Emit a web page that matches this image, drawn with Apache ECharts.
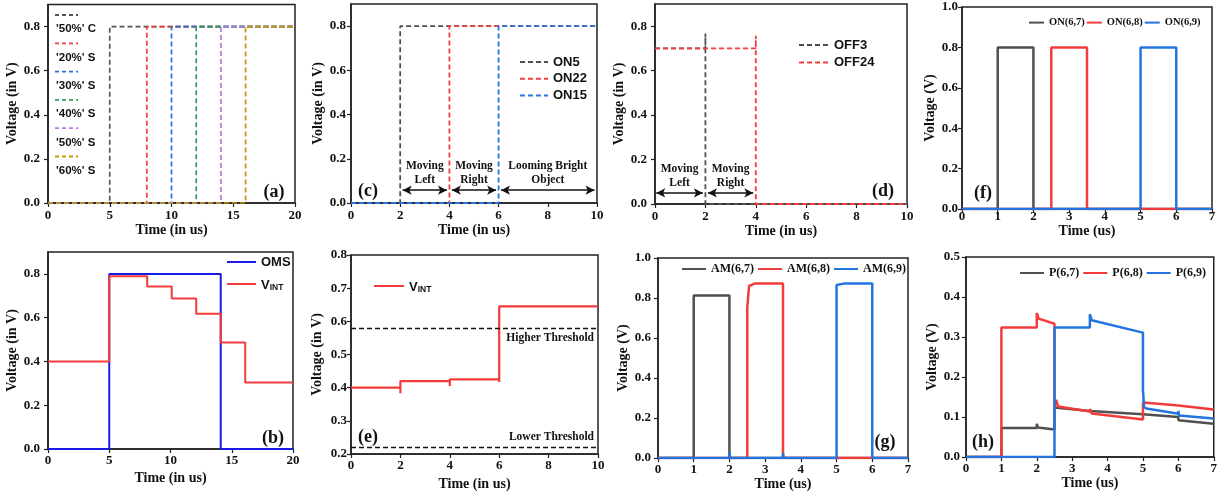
<!DOCTYPE html>
<html>
<head>
<meta charset="utf-8">
<script src="https://cdn.jsdelivr.net/npm/echarts@6/dist/echarts.min.js"></script>
<style>
  html, body { margin: 0; padding: 0; background: #fff; }
  #chart { width: 1220px; height: 492px; }
</style>
</head>
<body>
<div id="chart"></div>
<script>
const SERIF = '"Liberation Serif", "Times New Roman", serif';
const SANS = '"Liberation Sans", Arial, sans-serif';
const GRAY = '#505050', RED = '#f23c3c', BLUE = '#2474e0';

// (a) rising edges of the sweep, [time us, volt]
const sweepNames = ["'50%' C", "'20%' S", "'30%' S", "'40%' S", "'50%' S", "'60%' S"];
const sweepColors = ['#555555', '#f23c3c', '#2a70dc', '#2ca25f', '#b67be6', '#c79a00'];
const sweepWaves = [
  [[0, 0], [5, 0], [5, 0.8], [20, 0.8]],
  [[0, 0], [8, 0], [8, 0.8], [20, 0.8]],
  [[0, 0], [10, 0], [10, 0.8], [20, 0.8]],
  [[0, 0], [12, 0], [12, 0.8], [20, 0.8]],
  [[0, 0], [14, 0], [14, 0.8], [20, 0.8]],
  [[0, 0], [16, 0], [16, 0.8], [20, 0.8]]
];

// (b)
const omsB = [[0, 0], [5, 0], [5, 0.8], [14.1, 0.8], [14.1, 0], [20, 0]];
const vintB = [[0, 0.4], [5, 0.4], [5, 0.789], [8.1, 0.789], [8.1, 0.742], [10.1, 0.742], [10.1, 0.688],
  [12.1, 0.688], [12.1, 0.618], [14.1, 0.618], [14.1, 0.486], [16.1, 0.486], [16.1, 0.304], [20, 0.304]];

// (c)
const on5 = [[0, 0], [2, 0], [2, 0.8], [10, 0.8]];
const on22 = [[0, 0], [4, 0], [4, 0.8], [10, 0.8]];
const on15 = [[0, 0], [6, 0], [6, 0.8], [10, 0.8]];
const arrowsC = [[2.1, 3.9, 'Moving\nLeft'], [4.1, 5.9, 'Moving\nRight'], [6.1, 9.9, 'Looming Bright\nObject']];
const arrowYC = 0.058;

// (d)
const off3 = [[0, 0.7], [2, 0.7], [2, 0.767], [2, 0], [10, 0]];
const off24 = [[0, 0.7], [4, 0.7], [4, 0.757], [4, 0], [10, 0]];
const arrowsD = [[0.05, 1.9, 'Moving\nLeft'], [2.1, 3.9, 'Moving\nRight']];
const arrowYD = 0.05;

// (e)
const vintE = [[0, 0.4], [2, 0.4], [2, 0.383], [2, 0.42], [4, 0.42], [4, 0.405], [4, 0.425],
  [6, 0.425], [6, 0.417], [6, 0.645], [10, 0.645]];
const thresholds = [['Higher Threshold', 0.577], ['Lower Threshold', 0.223]];

// (f)
const on67 = [[0, 0], [1, 0], [1, 0.8], [2, 0.8], [2, 0], [7, 0]];
const on68 = [[0, 0], [2.5, 0], [2.5, 0.8], [3.5, 0.8], [3.5, 0], [7, 0]];
const on69 = [[0, 0], [5, 0], [5, 0.8], [6, 0.8], [6, 0], [7, 0]];

// (g)
const am67 = [[0, 0], [1, 0], [1, 0.813], [2, 0.813], [2, 0], [7, 0]];
const am68 = [[0, 0], [2.5, 0], [2.5, 0.755], [2.55, 0.86], [2.7, 0.872], [3.5, 0.872], [3.5, 0], [7, 0]];
const am69 = [[0, 0], [2, 0], [2, 0.03], [2.02, 0], [3.5, 0], [3.5, 0.025], [3.52, 0], [5, 0], [5, 0.865],
  [5.2, 0.872], [6, 0.872], [6, 0], [7, 0]];

// (h)
const p67 = [[0, 0], [1, 0], [1, 0.0725], [2, 0.0725], [2, 0.083], [2.03, 0.074], [2.5, 0.0685], [2.5, 0.1235],
  [3.5, 0.115], [3.5, 0.118], [3.53, 0.112], [5, 0.107], [6, 0.1], [6, 0.092], [7, 0.083]];
const p68 = [[0, 0], [1, 0], [1, 0.3235], [2, 0.3235], [2, 0.36], [2.05, 0.346], [2.5, 0.333], [2.5, 0.125],
  [2.55, 0.143], [2.6, 0.126], [3.5, 0.114], [3.5, 0.12], [3.55, 0.109], [5, 0.094], [5, 0.136], [6, 0.129],
  [6, 0.134], [6.03, 0.128], [7, 0.1185]];
const p69 = [[0, 0], [2.5, 0], [2.5, 0.3235], [3.5, 0.3235], [3.5, 0.357], [3.55, 0.342], [5, 0.311], [5, 0.168],
  [5.03, 0.125], [5.1, 0.121], [6, 0.108], [6, 0.115], [6.02, 0.104], [7, 0.096]];

// layout of the 8 panels: a c d f / b e g h
const panels = [
  { tag: '(a)', grid: { left: 48, top: 4.5, width: 247, height: 198.5 }, x: [0, 20, 5], y: [0, 0.9, 0.2], xn: 'Time (in us)', yn: 'Voltage (in V)', xg: 20, yg: 27, xm: 6, ym: 8, lab: [274, 192] },
  { tag: '(c)', grid: { left: 351, top: 4, width: 246, height: 199 }, x: [0, 10, 2], y: [0, 0.9, 0.2], xn: 'Time (in us)', yn: 'Voltage (in V)', xg: 20, yg: 26, xm: 6, ym: 5, lab: [368, 191] },
  { tag: '(d)', grid: { left: 655, top: 4, width: 252, height: 200 }, x: [0, 10, 2], y: [0, 0.9, 0.2], xn: 'Time (in us)', yn: 'Voltage (in V)', xg: 19, yg: 26, xm: 6, ym: 8, lab: [883, 191] },
  { tag: '(f)', grid: { left: 962, top: 7, width: 250, height: 202 }, x: [0, 7, 1], y: [0, 1, 0.2], xn: 'Time (us)', yn: 'Voltage (V)', xg: 11, yg: 22, xm: 1, ym: 4, lab: [983, 193] },
  { tag: '(b)', grid: { left: 48, top: 252, width: 245, height: 197 }, x: [0, 20, 5], y: [0, 0.9, 0.2], xn: 'Time (in us)', yn: 'Voltage (in V)', xg: 22, yg: 27, xm: 5, ym: 8, lab: [273, 438] },
  { tag: '(e)', grid: { left: 351, top: 255, width: 247, height: 200 }, x: [0, 10, 2], y: [0.2, 0.8, 0.1], xn: 'Time (in us)', yn: 'Voltage (in V)', xg: 23, yg: 27, xm: 5, ym: 4, lab: [368, 437] },
  { tag: '(g)', grid: { left: 658, top: 258, width: 250, height: 200.5 }, x: [0, 7, 1], y: [0, 1, 0.2], xn: 'Time (us)', yn: 'Voltage (V)', xg: 18, yg: 26, xm: 5, ym: 7, lab: [885, 442] },
  { tag: '(h)', grid: { left: 966, top: 257, width: 248, height: 200 }, x: [0, 7, 1], y: [0, 0.5, 0.1], xn: 'Time (us)', yn: 'Voltage (V)', xg: 18, yg: 24, xm: 5, ym: 6, lab: [983, 442] }
];
const P = { a: 0, c: 1, d: 2, f: 3, b: 4, e: 5, g: 6, h: 7 };

const axisName = { fontFamily: SERIF, fontWeight: 'bold', fontSize: 14, color: '#111' };
const tickFont = { fontFamily: SERIF, fontWeight: 'bold', fontSize: 13, color: '#111' };

const grids = panels.map(p => Object.assign({ show: true, borderColor: '#222', borderWidth: 1.5 }, p.grid));
const xAxes = panels.map((p, i) => ({
  type: 'value', gridIndex: i, min: p.x[0], max: p.x[1], interval: p.x[2],
  name: p.xn, nameLocation: 'middle', nameGap: p.xg, nameTextStyle: axisName,
  axisLine: { onZero: false, lineStyle: { color: '#222', width: 1.5 } },
  axisTick: { length: 4, lineStyle: { color: '#222', width: 1.2 } },
  axisLabel: Object.assign({ margin: p.xm }, tickFont),
  splitLine: { show: false }
}));
const yAxes = panels.map((p, i) => ({
  type: 'value', gridIndex: i, min: p.y[0], max: p.y[1], interval: p.y[2],
  name: p.yn, nameLocation: 'middle', nameGap: p.yg, nameTextStyle: axisName,
  axisLine: { show: true, onZero: false, lineStyle: { color: '#222', width: 1.5 } },
  axisTick: { length: 4, lineStyle: { color: '#222', width: 1.2 } },
  axisLabel: Object.assign({ margin: p.ym, formatter: v => v.toFixed(1), showMaxLabel: p.y[1] !== 0.9 }, tickFont),
  splitLine: { show: false }
}));

function line(panel, name, data, color, width, dashed, extra) {
  const idx = P[panel];
  return Object.assign({
    type: 'line', name, data, xAxisIndex: idx, yAxisIndex: idx,
    symbol: 'none', showSymbol: false, silent: true, animation: false,
    lineStyle: { color, width, type: dashed ? [5, 3] : 'solid' },
    itemStyle: { color }
  }, extra || {});
}

function arrowMarks(spans, y) {
  return {
    silent: true, animation: false, symbol: ['arrow', 'arrow'], symbolSize: [7, 9],
    lineStyle: { color: '#111', type: 'solid', width: 1.5 },
    label: { show: true, position: 'insideMiddleTop', distance: 3, formatter: '{b}', fontFamily: SERIF,
      fontWeight: 'bold', fontSize: 11.5, lineHeight: 14, color: '#111' },
    emphasis: { disabled: true },
    data: spans.map(s => [{ name: s[2], coord: [s[0], y] }, { coord: [s[1], y] }])
  };
}

const series = [];
sweepWaves.forEach((w, i) => series.push(line('a', sweepNames[i], w, sweepColors[i], 1.7, true)));
series.push(line('b', 'OMS', omsB, '#1a1ae6', 2, false));
series.push(line('b', 'VINT', vintB, RED, 2, false));
series.push(line('c', 'ON5', on5, GRAY, 1.8, true, { markLine: arrowMarks(arrowsC, arrowYC) }));
series.push(line('c', 'ON22', on22, RED, 1.8, true));
series.push(line('c', 'ON15', on15, BLUE, 1.8, true));
series.push(line('d', 'OFF3', off3, GRAY, 1.8, true, { markLine: arrowMarks(arrowsD, arrowYD) }));
series.push(line('d', 'OFF24', off24, RED, 1.8, true));
series.push(line('e', 'VINT', vintE, RED, 2.2, false, {
  markLine: {
    silent: true, animation: false, symbol: 'none',
    lineStyle: { color: '#111', type: [5, 3], width: 1.3 },
    emphasis: { disabled: true },
    label: { show: true, formatter: '{b}', fontFamily: SERIF, fontWeight: 'bold', fontSize: 11.5, color: '#111', distance: 4 },
    data: thresholds.map((t, i) => ({ name: t[0], yAxis: t[1], label: { position: i === 0 ? 'insideEndBottom' : 'insideEndTop' } }))
  }
}));
series.push(line('f', 'ON(6,7)', on67, GRAY, 2.5, false));
series.push(line('f', 'ON(6,8)', on68, RED, 2.5, false));
series.push(line('f', 'ON(6,9)', on69, BLUE, 2.5, false));
series.push(line('g', 'AM(6,7)', am67, GRAY, 2.5, false));
series.push(line('g', 'AM(6,8)', am68, RED, 2.5, false));
series.push(line('g', 'AM(6,9)', am69, BLUE, 2.5, false));
series.push(line('h', 'P(6,7)', p67, GRAY, 2.5, false));
series.push(line('h', 'P(6,8)', p68, RED, 2.5, false));
series.push(line('h', 'P(6,9)', p69, BLUE, 2.5, false));

const vintRich = {
  v: { fontFamily: SANS, fontWeight: 'bold', fontSize: 13, lineHeight: 16, verticalAlign: 'bottom', color: '#111' },
  sub: { fontFamily: SANS, fontWeight: 'bold', fontSize: 8.5, lineHeight: 9, verticalAlign: 'bottom', color: '#111' }
};
const vintFormatter = n => n === 'VINT' ? '{v|V}{sub|INT}' : n;
const sansLegend = { fontFamily: SANS, fontWeight: 'bold', fontSize: 13, lineHeight: 14, color: '#111', rich: vintRich };
const serifLegend = size => ({ fontFamily: SERIF, fontWeight: 'bold', fontSize: size, color: '#111' });

const legends = [
  { data: ['OMS', 'VINT'], orient: 'vertical', left: 226, top: 255, itemWidth: 29, itemHeight: 14, itemGap: 7, formatter: vintFormatter, textStyle: sansLegend },
  { data: ['ON5', 'ON22', 'ON15'], orient: 'vertical', left: 519, top: 55, itemWidth: 28, itemHeight: 14, itemGap: 2.7, textStyle: sansLegend },
  { data: ['OFF3', 'OFF24'], orient: 'vertical', left: 798, top: 38, itemWidth: 30, itemHeight: 14, itemGap: 3.6, textStyle: sansLegend },
  { data: ['VINT'], orient: 'vertical', left: 373, top: 278, itemWidth: 30, itemHeight: 14, formatter: vintFormatter, textStyle: sansLegend },
  { data: ['ON(6,7)', 'ON(6,8)', 'ON(6,9)'], left: 1028, top: 17, itemWidth: 15, itemHeight: 14, itemGap: 1, textStyle: serifLegend(10.5) },
  { data: ['AM(6,7)', 'AM(6,8)', 'AM(6,9)'], left: 681, top: 263, itemWidth: 24, itemHeight: 14, itemGap: 3, textStyle: serifLegend(12) },
  { data: ['P(6,7)', 'P(6,8)', 'P(6,9)'], left: 1019, top: 267, itemWidth: 24, itemHeight: 14, itemGap: 3, textStyle: serifLegend(12) }
].map(l => Object.assign({ selectedMode: false, padding: 0, inactiveColor: '#111', itemStyle: { opacity: 0 } }, l));

// (a) legend: dashed sample above each name
const graphic = [];
sweepNames.forEach((n, i) => {
  const y0 = 15 + i * 28.3;
  graphic.push({ type: 'line', silent: true, shape: { x1: 55, y1: y0, x2: 78, y2: y0 },
    style: { stroke: sweepColors[i], lineWidth: 1.8, lineDash: [4, 3] } });
  graphic.push({ type: 'text', silent: true, x: 56, y: y0 + 14.3,
    style: { text: n, font: 'bold 11.5px ' + SANS, fill: '#111', align: 'left', verticalAlign: 'middle', textAlign: 'left', textVerticalAlign: 'middle' } });
});
panels.forEach(p => {
  graphic.push({ type: 'text', silent: true, x: p.lab[0], y: p.lab[1],
    style: { text: p.tag, font: 'bold 18px ' + SERIF, fill: '#111', align: 'center', verticalAlign: 'middle', textAlign: 'center', textVerticalAlign: 'middle' } });
});

const chart = echarts.init(document.getElementById('chart'), null, { renderer: 'canvas' });
chart.setOption({
  animation: false,
  backgroundColor: '#fff',
  grid: grids,
  xAxis: xAxes,
  yAxis: yAxes,
  legend: legends,
  graphic: graphic,
  series: series
});
</script>
</body>
</html>
